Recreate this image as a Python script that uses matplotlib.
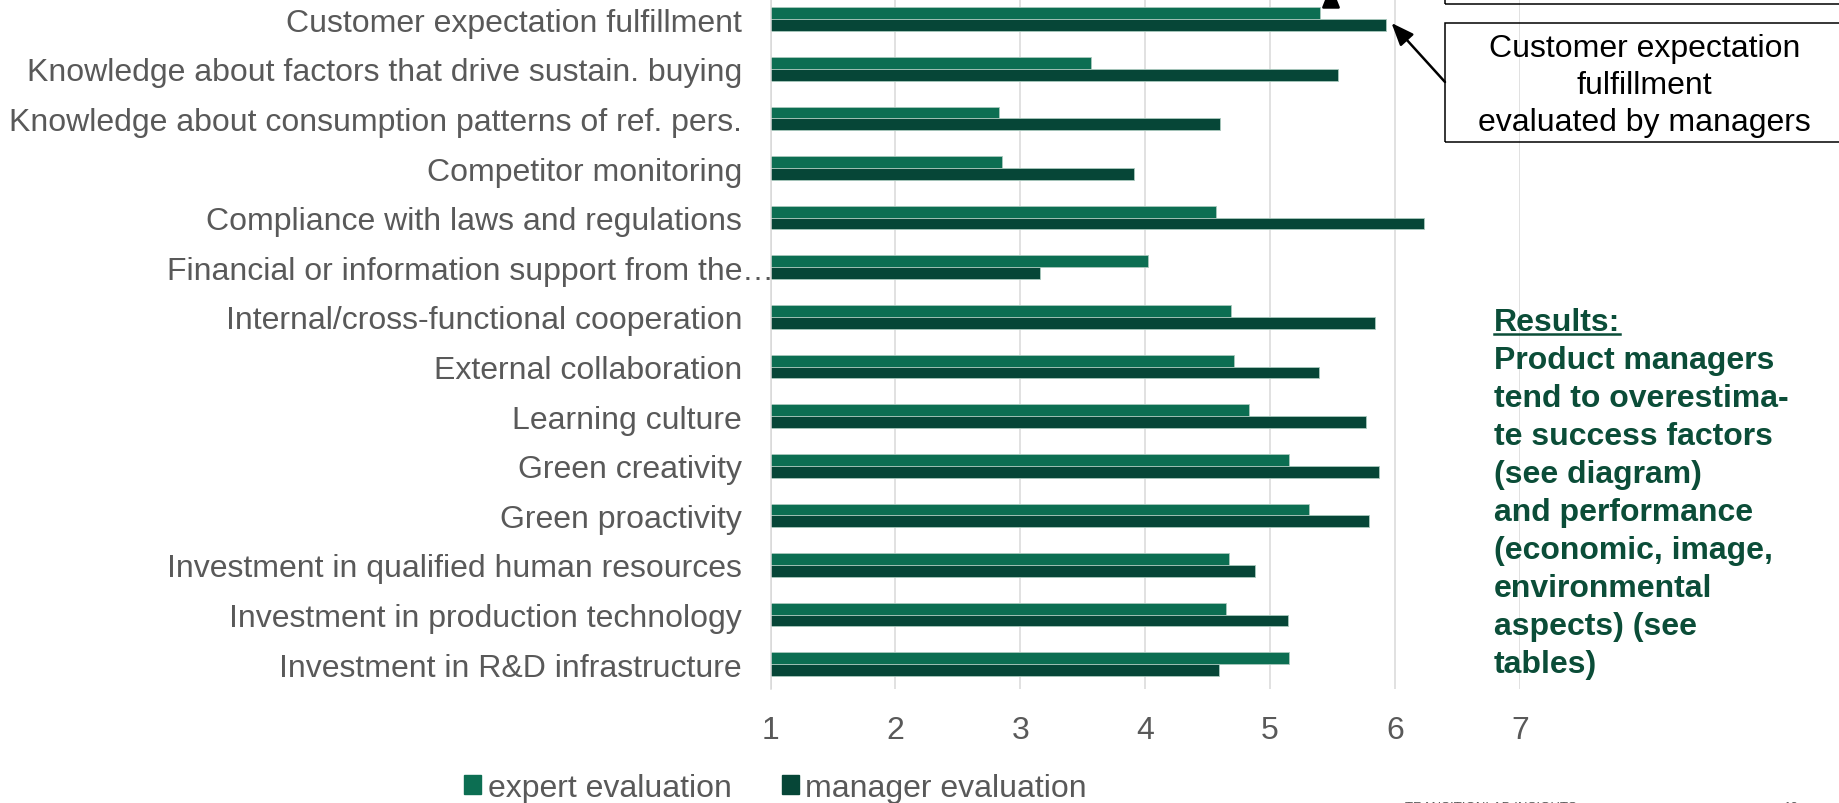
import numpy as np
import matplotlib
matplotlib.use('Agg')
import matplotlib.pyplot as plt
from matplotlib.patches import Patch, Rectangle, Polygon
from matplotlib.lines import Line2D

plt.rcParams['font.family'] = ['Liberation Sans', 'DejaVu Sans']

# data, listed top to bottom as in the chart
categories = ['Customer expectation fulfillment',
              'Knowledge about factors that drive sustain. buying',
              'Knowledge about consumption patterns of ref. pers.',
              'Competitor monitoring',
              'Compliance with laws and regulations',
              'Financial or information support from the',
              'Internal/cross-functional cooperation',
              'External collaboration',
              'Learning culture',
              'Green creativity',
              'Green proactivity',
              'Investment in qualified human resources',
              'Investment in production technology',
              'Investment in R&D infrastructure']
expert = [5.40, 3.57, 2.83, 2.85, 4.57, 4.02, 4.69, 4.71, 4.83, 5.15, 5.31, 4.67, 4.65, 5.15]
manager = [5.93, 5.54, 4.60, 3.91, 6.23, 3.16, 5.84, 5.39, 5.77, 5.87, 5.79, 4.88, 5.14, 4.59]
xticks = [1, 2, 3, 4, 5, 6, 7]

results = ['Product managers', 'tend to overestima-', 'te success factors',
           '(see diagram)', 'and performance', '(economic, image,',
           'environmental', 'aspects) (see', 'tables)']
box_lines = ['Customer expectation', 'fulfillment', 'evaluated by managers']

W, H = 1839, 804
c_exp = '#0C6E52'
c_man = '#064637'
c_gray = '#595959'
c_text = '#0B4D38'
fs = 23

fig = plt.figure(figsize=(W / 100, H / 100), dpi=100)
ax = fig.add_axes([770.5 / W, (H - 690) / H, 749.4 / W, 694.6 / H])

n = len(categories)
y = np.arange(n)[::-1]
h = 0.238
ax.barh(y + h / 2, expert, height=h, color=c_exp, edgecolor='#A9C9BD', linewidth=0.6, label='expert evaluation')
ax.barh(y - h / 2, manager, height=h, color=c_man, edgecolor='#A9C9BD', linewidth=0.6, label='manager evaluation')

ax.set_xlim(1, 7)
ax.set_ylim(-0.5, n - 0.5)
ax.set_xticks(xticks)
ax.set_yticks(y, categories)
ax.tick_params(axis='y', length=0, pad=20.5, labelsize=fs, labelcolor=c_gray)
ax.tick_params(axis='x', length=0, pad=19, labelsize=fs, labelcolor=c_gray)
ax.grid(axis='x', color='#D9D9D9', linewidth=1.1)
ax.set_axisbelow(True)
for s in ['top', 'bottom', 'right']:
    ax.spines[s].set_visible(False)
ax.spines['left'].set_color('#D9D9D9')
ax.spines['left'].set_linewidth(1.1)

# truncated label ellipsis
fin = categories.index('Financial or information support from the')
ax.annotate('\u2026', xy=(1, y[fin]), xycoords='data', xytext=(-21, 0),
            textcoords='offset points', ha='left', va='center_baseline',
            fontsize=fs, color=c_gray, annotation_clip=False)

# legend
handles = [Patch(color=c_exp), Patch(color=c_man)]
fig.legend(handles, ['expert evaluation', 'manager evaluation'], loc='center',
           bbox_to_anchor=(775.5 / W, (H - 789) / H), ncol=2, frameon=False,
           fontsize=fs, labelcolor=c_gray, handlelength=0.53, handleheight=0.53,
           handletextpad=0.2, columnspacing=1.57, borderpad=0, borderaxespad=0)

# annotation boxes
fig.add_artist(Rectangle((1445 / W, (H - 143) / H), 400 / W, 119 / H, transform=fig.transFigure,
                         fill=False, edgecolor='black', linewidth=1.1, clip_on=False))
fig.add_artist(Rectangle((1445 / W, (H - 4.7) / H), 400 / W, 60 / H, transform=fig.transFigure,
                         fill=False, edgecolor='black', linewidth=1.1, clip_on=False))
for i, line in enumerate(box_lines):
    fig.text(1644.7 / W, (H - 56.5 - 37 * i) / H, line, ha='center', va='baseline',
             fontsize=fs, color='black')

ax.annotate('', xy=(1391.5, H - 24), xycoords='figure pixels',
            xytext=(1445, H - 83), textcoords='figure pixels',
            arrowprops=dict(arrowstyle='-|>,head_length=0.55,head_width=0.22',
                            color='black', lw=1.8, mutation_scale=25, shrinkA=0, shrinkB=0))
ax.annotate('', xy=(1331, H + 14), xycoords='figure pixels',
            xytext=(1331, H - 5), textcoords='figure pixels',
            arrowprops=dict(arrowstyle='-|>,head_length=0.55,head_width=0.22',
                            color='black', lw=1.8, mutation_scale=25, shrinkA=0, shrinkB=0))

# results text
fig.text(1494 / W, (H - 331.5) / H, 'Results:', ha='left', va='baseline',
         fontsize=fs, fontweight='bold', color=c_text)
fig.add_artist(Line2D([1494 / W, 1620 / W], [(H - 335) / H] * 2, transform=fig.transFigure,
                      color=c_text, linewidth=1.8))
for i, line in enumerate(results):
    fig.text(1494 / W, (H - 331.5 - 38 * (i + 1)) / H, line, ha='left', va='baseline',
             fontsize=fs, fontweight='bold', color=c_text)

# footer (mostly cut off)
fig.text(1405 / W, (H - 802.5) / H, 'TRANSITIONLAB INSIGHTS', ha='left', va='top', fontsize=9.5, color=c_gray)
fig.text(1649 / W, (H - 802.5) / H, 'OCT 6, 2021', ha='left', va='top', fontsize=9.5, color=c_gray)
fig.text(1784 / W, (H - 802.5) / H, '10', ha='left', va='top', fontsize=9.5, color=c_gray)

fig.savefig('out.png', dpi=100)
